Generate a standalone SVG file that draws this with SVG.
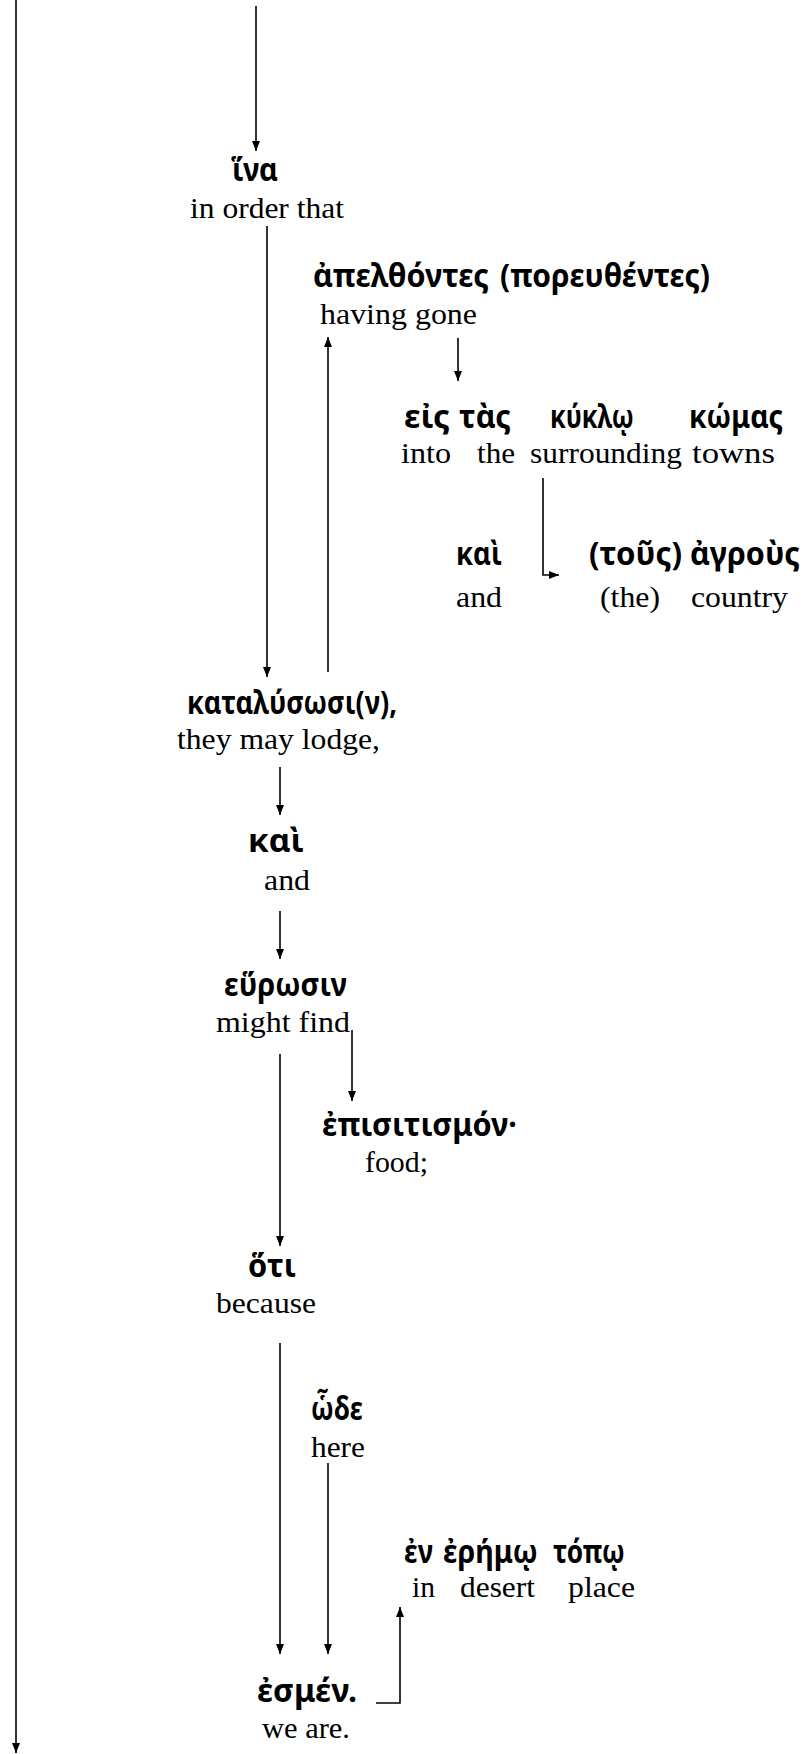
<svg xmlns="http://www.w3.org/2000/svg" width="804" height="1754" viewBox="0 0 804 1754">
<style>
.g{font-family:"Noto Sans","DejaVu Sans",sans-serif;font-weight:bold;font-size:32px;fill:#000}
.e{font-family:"Liberation Serif","Times New Roman",serif;font-size:30px;fill:#000}
.c{fill:none;stroke:#000;stroke-width:1.6}
</style>
<defs>
<marker id="ah" markerUnits="userSpaceOnUse" markerWidth="10" markerHeight="8" refX="10" refY="4" orient="auto">
<path d="M0,0 L10,4 L0,8 z" fill="#000"/>
</marker>
</defs>
<rect width="804" height="1754" fill="#fff"/>
<g id="connectors">
<path class="c" d="M16,0 V1753" marker-end="url(#ah)"/>
<path class="c" d="M256,6 V151" marker-end="url(#ah)"/>
<path class="c" d="M267,226 V677" marker-end="url(#ah)"/>
<path class="c" d="M328,672 V337" marker-end="url(#ah)"/>
<path class="c" d="M458,338 V381" marker-end="url(#ah)"/>
<path class="c" d="M543,478 V575 H559" marker-end="url(#ah)"/>
<path class="c" d="M280,767 V815" marker-end="url(#ah)"/>
<path class="c" d="M280,911 V959" marker-end="url(#ah)"/>
<path class="c" d="M352,1030 V1101" marker-end="url(#ah)"/>
<path class="c" d="M280,1054 V1246" marker-end="url(#ah)"/>
<path class="c" d="M280,1343 V1654" marker-end="url(#ah)"/>
<path class="c" d="M328,1463 V1654" marker-end="url(#ah)"/>
<path class="c" d="M376,1703 H400 V1607" marker-end="url(#ah)"/>
</g>
<g id="hina">
<text class="g" x="232" y="181" textLength="46" lengthAdjust="spacingAndGlyphs">ἵνα</text>
<text class="e" x="190" y="218" textLength="154" lengthAdjust="spacingAndGlyphs">in order that</text>
</g>
<g id="apelthontes">
<text class="g" x="313" y="287" textLength="176" lengthAdjust="spacingAndGlyphs">ἀπελθόντες</text>
<text class="g" x="500" y="287" textLength="210" lengthAdjust="spacingAndGlyphs">(πορευθέντες)</text>
<text class="e" x="320" y="324" textLength="157" lengthAdjust="spacingAndGlyphs">having gone</text>
</g>
<g id="eis-komas">
<text class="g" x="404" y="428" textLength="46" lengthAdjust="spacingAndGlyphs">εἰς</text>
<text class="g" x="459" y="428" textLength="52" lengthAdjust="spacingAndGlyphs">τὰς</text>
<text class="g" x="550" y="428" textLength="84" lengthAdjust="spacingAndGlyphs">κύκλῳ</text>
<text class="g" x="689" y="428" textLength="94" lengthAdjust="spacingAndGlyphs">κώμας</text>
<text class="e" x="401" y="463" textLength="50" lengthAdjust="spacingAndGlyphs">into</text>
<text class="e" x="477" y="463" textLength="38" lengthAdjust="spacingAndGlyphs">the</text>
<text class="e" x="530" y="463" textLength="152" lengthAdjust="spacingAndGlyphs">surrounding</text>
<text class="e" x="692" y="463" textLength="83" lengthAdjust="spacingAndGlyphs">towns</text>
</g>
<g id="kai-agrous">
<text class="g" x="456" y="565" textLength="46" lengthAdjust="spacingAndGlyphs">καὶ</text>
<text class="g" x="589" y="565" textLength="93" lengthAdjust="spacingAndGlyphs">(τοῦς)</text>
<text class="g" x="690" y="565" textLength="110" lengthAdjust="spacingAndGlyphs">ἀγροὺς</text>
<text class="e" x="456" y="607" textLength="46" lengthAdjust="spacingAndGlyphs">and</text>
<text class="e" x="600" y="607" textLength="60" lengthAdjust="spacingAndGlyphs">(the)</text>
<text class="e" x="691" y="607" textLength="97" lengthAdjust="spacingAndGlyphs">country</text>
</g>
<g id="katalysosi">
<text class="g" x="187" y="714" textLength="210" lengthAdjust="spacingAndGlyphs">καταλύσωσι(ν),</text>
<text class="e" x="177" y="749" textLength="203" lengthAdjust="spacingAndGlyphs">they may lodge,</text>
</g>
<g id="kai">
<text class="g" x="248" y="852" textLength="56" lengthAdjust="spacingAndGlyphs">καὶ</text>
<text class="e" x="264" y="890" textLength="46" lengthAdjust="spacingAndGlyphs">and</text>
</g>
<g id="heurosin">
<text class="g" x="224" y="996" textLength="123" lengthAdjust="spacingAndGlyphs">εὕρωσιν</text>
<text class="e" x="216" y="1032" textLength="134" lengthAdjust="spacingAndGlyphs">might find</text>
</g>
<g id="episitismon">
<text class="g" x="322" y="1136" textLength="195" lengthAdjust="spacingAndGlyphs">ἐπισιτισμόν·</text>
<text class="e" x="365" y="1172" textLength="63" lengthAdjust="spacingAndGlyphs">food;</text>
</g>
<g id="hoti">
<text class="g" x="248" y="1277" textLength="48" lengthAdjust="spacingAndGlyphs">ὅτι</text>
<text class="e" x="216" y="1313" textLength="100" lengthAdjust="spacingAndGlyphs">because</text>
</g>
<g id="hode">
<text class="g" x="311" y="1420" textLength="52" lengthAdjust="spacingAndGlyphs">ὧδε</text>
<text class="e" x="311" y="1457" textLength="54" lengthAdjust="spacingAndGlyphs">here</text>
</g>
<g id="en-eremo-topo">
<text class="g" x="404" y="1563" textLength="29" lengthAdjust="spacingAndGlyphs">ἐν</text>
<text class="g" x="443" y="1563" textLength="95" lengthAdjust="spacingAndGlyphs">ἐρήμῳ</text>
<text class="g" x="553" y="1563" textLength="72" lengthAdjust="spacingAndGlyphs">τόπῳ</text>
<text class="e" x="412" y="1597" textLength="23" lengthAdjust="spacingAndGlyphs">in</text>
<text class="e" x="460" y="1597" textLength="75" lengthAdjust="spacingAndGlyphs">desert</text>
<text class="e" x="568" y="1597" textLength="67" lengthAdjust="spacingAndGlyphs">place</text>
</g>
<g id="esmen">
<text class="g" x="257" y="1702" textLength="100" lengthAdjust="spacingAndGlyphs">ἐσμέν.</text>
<text class="e" x="262" y="1738" textLength="88" lengthAdjust="spacingAndGlyphs">we are.</text>
</g>
</svg>
